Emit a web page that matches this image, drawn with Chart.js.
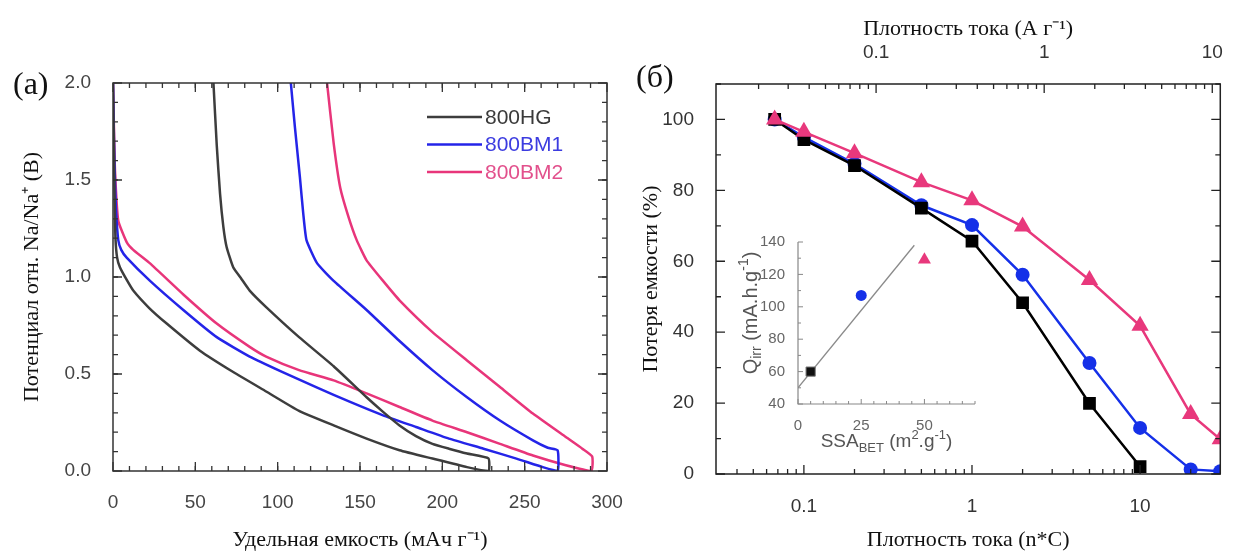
<!DOCTYPE html>
<html>
<head>
<meta charset="utf-8">
<script src="https://cdn.jsdelivr.net/npm/chart.js@4"></script>
<style>
  body { margin: 0; background: #fff; width: 1235px; height: 558px; position: relative; overflow: hidden; }
  canvas { position: absolute; }
  .tag { position: absolute; font-family: "Liberation Serif", serif; font-size: 32px; color: #111; line-height: 1; }
</style>
</head>
<body>
<canvas id="left" width="640" height="558" style="left:0;top:0"></canvas>
<canvas id="right" width="615" height="558" style="left:620px;top:0"></canvas>
<canvas id="inset" width="260" height="236" style="left:730px;top:226px"></canvas>
<div class="tag" style="left:13px;top:67px">(a)</div>
<div class="tag" style="left:636px;top:60px">(б)</div>
<script>
// (a) charge/discharge curves: capacity (mAh/g) and potential (V)
const hgCap = [0, 0.5, 1, 1.5, 2.5, 4.2, 8, 12.3, 22, 32.6, 52.8, 73, 93, 113, 134, 154, 174, 194, 215, 228,
               228, 215, 204, 194, 184, 174, 164, 154, 134, 113, 93, 83, 78, 73, 69, 67, 65, 63, 61];
const hgVolt = [2.0, 1.7, 1.4, 1.2, 1.1, 1.05, 0.99, 0.93, 0.84, 0.76, 0.62, 0.51, 0.41, 0.31, 0.235, 0.167, 0.107, 0.064, 0.02, 0,
                0.065, 0.09, 0.115, 0.14, 0.18, 0.235, 0.305, 0.38, 0.54, 0.69, 0.845, 0.93, 0.99, 1.05, 1.155, 1.26, 1.43, 1.68, 2.0];
const bm1Cap = [0, 0.5, 1, 1.8, 3.2, 5, 8.3, 22.5, 42.7, 63, 83, 103, 124, 144, 164, 184, 204, 225, 245, 261, 270,
                270, 264, 255, 235, 215, 194, 174, 154, 134, 124, 117.5, 115.5, 113.5, 110.5, 108];
const bm1Volt = [2.0, 1.75, 1.55, 1.35, 1.19, 1.14, 1.10, 0.98, 0.83, 0.69, 0.59, 0.51, 0.43, 0.356, 0.287, 0.227, 0.167, 0.115, 0.064, 0.02, 0,
                 0.107, 0.12, 0.158, 0.26, 0.38, 0.52, 0.67, 0.83, 0.98, 1.07, 1.19, 1.33, 1.515, 1.77, 2.0];
const bm2Cap = [0, 0.5, 1.2, 3.2, 8.3, 12.3, 22.5, 42.7, 63, 83, 93, 113, 134, 154, 174, 194, 215, 235, 255, 275, 290.5,
                291, 285, 275, 255, 235, 215, 194, 174, 164, 154, 148, 143, 138, 134, 130];
const bm2Volt = [2.0, 1.8, 1.55, 1.29, 1.18, 1.14, 1.07, 0.91, 0.76, 0.64, 0.59, 0.52, 0.467, 0.40, 0.33, 0.26, 0.20, 0.14, 0.08, 0.03, 0,
                 0.075, 0.115, 0.175, 0.296, 0.433, 0.57, 0.716, 0.88, 0.98, 1.086, 1.19, 1.31, 1.46, 1.69, 2.0];

// (б) capacity retention (%) vs rate (n*C)
const rateC = [0.067, 0.1, 0.2, 0.5, 1, 2, 5, 10, 20, 30];
const hgRetention = [100, 94.3, 87, 75, 65.7, 48.3, 19.9, 2.1];
const bm1Retention = [100, 95, 87.5, 75.8, 70.2, 56.2, 31.3, 13, 1.3, 0.8];
const bm2Retention = [100, 96.5, 90.5, 82.3, 77.2, 69.8, 54.7, 41.8, 16.9, 9.8];
const amperePerC = 0.372; // 1C in A/g, for the top axis

// inset: irreversible capacity vs BET surface area
const ssaBet = [5, 25, 50];
const qIrr = [60, 107, 129];
const fitSsa = [0, 46];
const fitQ = [50, 138];

const logTicks = [0.1, 1, 10];

const sans = '"Liberation Sans", Arial, sans-serif';
const serif = '"Liberation Serif", "Times New Roman", serif';

function points(xs, ys) {
  return ys.map((y, i) => ({x: xs[i], y: y}));
}

function steps(from, to, step) {
  const out = [];
  for (let v = from; v <= to + 1e-9; v += step) out.push(+v.toFixed(6));
  return out;
}

function logMinor(min, max) {
  const out = [];
  for (let d = 0.01; d <= 100; d *= 10) {
    for (let m = 2; m <= 9; m++) {
      const v = m * d;
      if (v > min && v < max) out.push(v);
    }
  }
  return out;
}

/**
 * Frame with inward tick marks drawn on the chart area.
 */
const frameTicks = {
  id: 'frameTicks',
  afterDatasetsDraw(chart, args, opts) {
    const {ctx, chartArea: a} = chart;
    ctx.save();
    ctx.strokeStyle = opts.color;
    ctx.lineWidth = opts.width;
    ctx.beginPath();
    if (opts.box) {
      ctx.rect(a.left, a.top, a.right - a.left, a.bottom - a.top);
    } else {
      ctx.moveTo(a.left, a.top);
      ctx.lineTo(a.left, a.bottom);
      ctx.lineTo(a.right, a.bottom);
    }
    ctx.stroke();
    ctx.lineWidth = opts.tickWidth;
    for (const t of opts.ticks) {
      const scale = chart.scales[t.scale];
      for (const v of t.values) {
        const p = scale.getPixelForValue(v);
        ctx.beginPath();
        for (const side of t.sides) {
          if (side === 'bottom') { ctx.moveTo(p, a.bottom); ctx.lineTo(p, a.bottom - t.len); }
          if (side === 'top') { ctx.moveTo(p, a.top); ctx.lineTo(p, a.top + t.len); }
          if (side === 'left') { ctx.moveTo(a.left, p); ctx.lineTo(a.left + t.len, p); }
          if (side === 'right') { ctx.moveTo(a.right, p); ctx.lineTo(a.right - t.len, p); }
        }
        ctx.stroke();
      }
    }
    ctx.restore();
  }
};

/**
 * Legend with line samples and coloured labels, placed inside the chart area.
 */
const lineLegend = {
  id: 'lineLegend',
  afterDraw(chart, args, opts) {
    if (!opts.show) return;
    const {ctx, chartArea: a} = chart;
    ctx.save();
    ctx.font = `21px ${sans}`;
    ctx.textBaseline = 'middle';
    chart.data.datasets.forEach((ds, i) => {
      const y = a.top + opts.top + i * opts.row;
      const x = a.left + opts.left;
      ctx.strokeStyle = ds.borderColor;
      ctx.lineWidth = 2.5;
      ctx.beginPath();
      ctx.moveTo(x, y);
      ctx.lineTo(x + opts.line, y);
      ctx.stroke();
      ctx.fillStyle = ds.textColor;
      ctx.fillText(ds.label, x + opts.line + 3, y + 1);
    });
    ctx.restore();
  }
};

function drawRich(ctx, parts, x, y, size, rotate) {
  ctx.save();
  ctx.translate(x, y);
  if (rotate) ctx.rotate(-Math.PI / 2);
  const small = Math.round(size * 0.68);
  let w = 0;
  for (const [t, k] of parts) {
    ctx.font = `${k ? small : size}px ${sans}`;
    w += ctx.measureText(t).width;
  }
  let cx = -w / 2;
  ctx.textBaseline = 'middle';
  ctx.textAlign = 'left';
  for (const [t, k] of parts) {
    ctx.font = `${k ? small : size}px ${sans}`;
    const dy = k === 'sub' ? size * 0.32 : k === 'sup' ? -size * 0.32 : 0;
    ctx.fillText(t, cx, dy);
    cx += ctx.measureText(t).width;
  }
  ctx.restore();
}

/**
 * Inset axis titles with sub- and superscripts.
 */
const insetTitles = {
  id: 'insetTitles',
  afterDraw(chart) {
    const {ctx, chartArea: a} = chart;
    ctx.save();
    ctx.fillStyle = '#555';
    drawRich(ctx, [['SSA', ''], ['BET', 'sub'], [' (m', ''], ['2', 'sup'], ['.g', ''], ['-1', 'sup'], [')', '']],
      (a.left + a.right) / 2, a.bottom + 38, 19, false);
    drawRich(ctx, [['Q', ''], ['irr', 'sub'], [' (mA.h.g', ''], ['-1', 'sup'], [')', '']],
      a.left - 47, (a.top + a.bottom) / 2 - 10, 20, true);
    ctx.restore();
  }
};

// ---------- (a) ----------
new Chart(document.getElementById('left'), {
  type: 'scatter',
  data: {
    datasets: [
      {label: '800HG', data: points(hgCap, hgVolt), borderColor: '#3d3d3d', textColor: '#3a3a3a'},
      {label: '800BM1', data: points(bm1Cap, bm1Volt), borderColor: '#2424e8', textColor: '#3c3ce0'},
      {label: '800BM2', data: points(bm2Cap, bm2Volt), borderColor: '#e8357a', textColor: '#e2508c'}
    ].map(ds => Object.assign(ds, {showLine: true, pointRadius: 0, borderWidth: 2.5, tension: 0.15}))
  },
  options: {
    responsive: false,
    animation: false,
    layout: {padding: {top: 83, right: 33, left: 0, bottom: 0}},
    plugins: {
      legend: {display: false},
      tooltip: {enabled: false},
      frameTicks: {
        box: true, color: '#333', width: 1.5, tickWidth: 1.3,
        ticks: [
          {scale: 'x', values: steps(0, 300, 50), len: 9, sides: ['bottom', 'top']},
          {scale: 'x', values: steps(10, 290, 10), len: 5, sides: ['bottom', 'top']},
          {scale: 'y', values: steps(0, 2, 0.5), len: 9, sides: ['left', 'right']},
          {scale: 'y', values: steps(0.1, 1.9, 0.1), len: 5, sides: ['left', 'right']}
        ]
      },
      lineLegend: {show: true, left: 314, top: 34, row: 27.5, line: 55}
    },
    scales: {
      x: {
        type: 'linear', min: 0, max: 300,
        grid: {display: false}, border: {display: false},
        ticks: {stepSize: 50, maxRotation: 0, padding: 12, color: '#444', font: {family: sans, size: 19}},
        title: {display: true, text: 'Удельная емкость (мАч г⁻¹)', color: '#111',
                font: {family: serif, size: 22}, padding: {top: 0, bottom: 5}},
        afterFit: s => { s.height = 87; }
      },
      y: {
        type: 'linear', min: 0, max: 2,
        grid: {display: false}, border: {display: false},
        ticks: {stepSize: 0.5, padding: 14, color: '#444', font: {family: sans, size: 19},
                callback: v => v.toFixed(1)},
        title: {display: true, text: 'Потенциал отн. Na/Na⁺ (B)', color: '#111',
                font: {family: serif, size: 22}, padding: {top: 19, bottom: 0}},
        afterFit: s => { s.width = 113; }
      }
    }
  },
  plugins: [frameTicks, lineLegend]
});

// ---------- (б) ----------
const cMin = 0.03, cMax = 30;
const setLogTicks = s => { s.ticks = logTicks.map(v => ({value: v})); };

new Chart(document.getElementById('right'), {
  type: 'scatter',
  data: {
    datasets: [
      {label: '800BM2', data: points(rateC, bm2Retention), borderColor: '#e8387c', backgroundColor: '#e8387c',
       pointStyle: 'triangle', pointRadius: 10},
      {label: '800HG', data: points(rateC, hgRetention), borderColor: '#000', backgroundColor: '#000',
       pointStyle: 'rect', pointRadius: 9},
      {label: '800BM1', data: points(rateC, bm1Retention), borderColor: '#1530e8', backgroundColor: '#1530e8',
       pointStyle: 'circle', pointRadius: 7}
    ].map(ds => Object.assign(ds, {showLine: true, borderWidth: 2.5, tension: 0, pointBorderWidth: 0}))
  },
  options: {
    responsive: false,
    animation: false,
    layout: {padding: {top: 0, right: 6, left: 0, bottom: 0}},
    plugins: {
      legend: {display: false},
      tooltip: {enabled: false},
      frameTicks: {
        box: true, color: '#222', width: 1.5, tickWidth: 1.3,
        ticks: [
          {scale: 'x', values: logTicks, len: 9, sides: ['bottom']},
          {scale: 'x', values: logMinor(cMin, cMax), len: 5, sides: ['bottom']},
          {scale: 'x2', values: logTicks, len: 9, sides: ['top']},
          {scale: 'x2', values: logMinor(cMin * amperePerC, cMax * amperePerC), len: 5, sides: ['top']},
          {scale: 'y', values: steps(0, 100, 20), len: 9, sides: ['left', 'right']},
          {scale: 'y', values: steps(10, 110, 20), len: 5, sides: ['left', 'right']}
        ]
      }
    },
    scales: {
      x: {
        type: 'logarithmic', position: 'bottom', min: cMin, max: cMax,
        grid: {display: false}, border: {display: false},
        afterBuildTicks: setLogTicks,
        ticks: {maxRotation: 0, autoSkip: false, padding: 13, color: '#333', font: {family: sans, size: 19},
                callback: v => String(v)},
        title: {display: true, text: 'Плотность тока (n*C)', color: '#111',
                font: {family: serif, size: 22}, padding: {top: 0, bottom: 5}},
        afterFit: s => { s.height = 84; }
      },
      x2: {
        type: 'logarithmic', position: 'top', min: cMin * amperePerC, max: cMax * amperePerC,
        grid: {display: false}, border: {display: false},
        afterBuildTicks: setLogTicks,
        ticks: {maxRotation: 0, autoSkip: false, padding: 12, color: '#333', font: {family: sans, size: 19},
                callback: v => String(v)},
        title: {display: true, text: 'Плотность тока (A г⁻¹)', color: '#111',
                font: {family: serif, size: 22}, padding: {top: 16, bottom: 0}},
        afterFit: s => { s.height = 84; }
      },
      y: {
        type: 'linear', min: 0, max: 110,
        grid: {display: false}, border: {display: false},
        afterBuildTicks: s => { s.ticks = steps(0, 100, 20).map(v => ({value: v})); },
        ticks: {padding: 14, color: '#333', font: {family: sans, size: 19}},
        title: {display: true, text: 'Потеря емкости (%)', color: '#111',
                font: {family: serif, size: 22}, padding: {top: 18, bottom: 0}},
        afterFit: s => { s.width = 96; }
      }
    }
  },
  plugins: [frameTicks]
});

// ---------- inset ----------
new Chart(document.getElementById('inset'), {
  type: 'scatter',
  data: {
    datasets: [
      {label: '800BM2', data: [{x: ssaBet[2], y: qIrr[2]}], backgroundColor: '#e8387c', pointStyle: 'triangle', pointRadius: 7.5},
      {label: '800BM1', data: [{x: ssaBet[1], y: qIrr[1]}], backgroundColor: '#1530e8', pointStyle: 'circle', pointRadius: 5.5},
      {label: '800HG', data: [{x: ssaBet[0], y: qIrr[0]}], backgroundColor: '#111', borderColor: '#777',
       pointStyle: 'rect', pointRadius: 6.5, pointBorderWidth: 1},
      {label: 'fit', data: points(fitSsa, fitQ), showLine: true, borderColor: '#8a8a8a', borderWidth: 1.3, pointRadius: 0}
    ].map(ds => Object.assign({pointBorderWidth: 0}, ds))
  },
  options: {
    responsive: false,
    animation: false,
    layout: {padding: {top: 16, right: 15, left: 0, bottom: 0}},
    plugins: {
      legend: {display: false},
      tooltip: {enabled: false},
      frameTicks: {
        box: false, color: '#888', width: 1.2, tickWidth: 1,
        ticks: [
          {scale: 'x', values: steps(0, 50, 25), len: 5, sides: ['bottom']},
          {scale: 'x', values: steps(5, 70, 5).filter(v => v % 25 !== 0), len: 3, sides: ['bottom']},
          {scale: 'y', values: steps(40, 140, 20), len: 5, sides: ['left']},
          {scale: 'y', values: steps(50, 130, 20), len: 3, sides: ['left']}
        ]
      }
    },
    scales: {
      x: {
        type: 'linear', min: 0, max: 70,
        grid: {display: false}, border: {display: false},
        afterBuildTicks: s => { s.ticks = steps(0, 50, 25).map(v => ({value: v})); },
        ticks: {maxRotation: 0, padding: 5, color: '#666', font: {family: sans, size: 15}},
        afterFit: s => { s.height = 58; }
      },
      y: {
        type: 'linear', min: 40, max: 140,
        grid: {display: false}, border: {display: false},
        afterBuildTicks: s => { s.ticks = steps(40, 140, 20).map(v => ({value: v})); },
        ticks: {padding: 5, color: '#666', font: {family: sans, size: 15}},
        afterFit: s => { s.width = 68; }
      }
    }
  },
  plugins: [frameTicks, insetTitles]
});
</script>
</body>
</html>
